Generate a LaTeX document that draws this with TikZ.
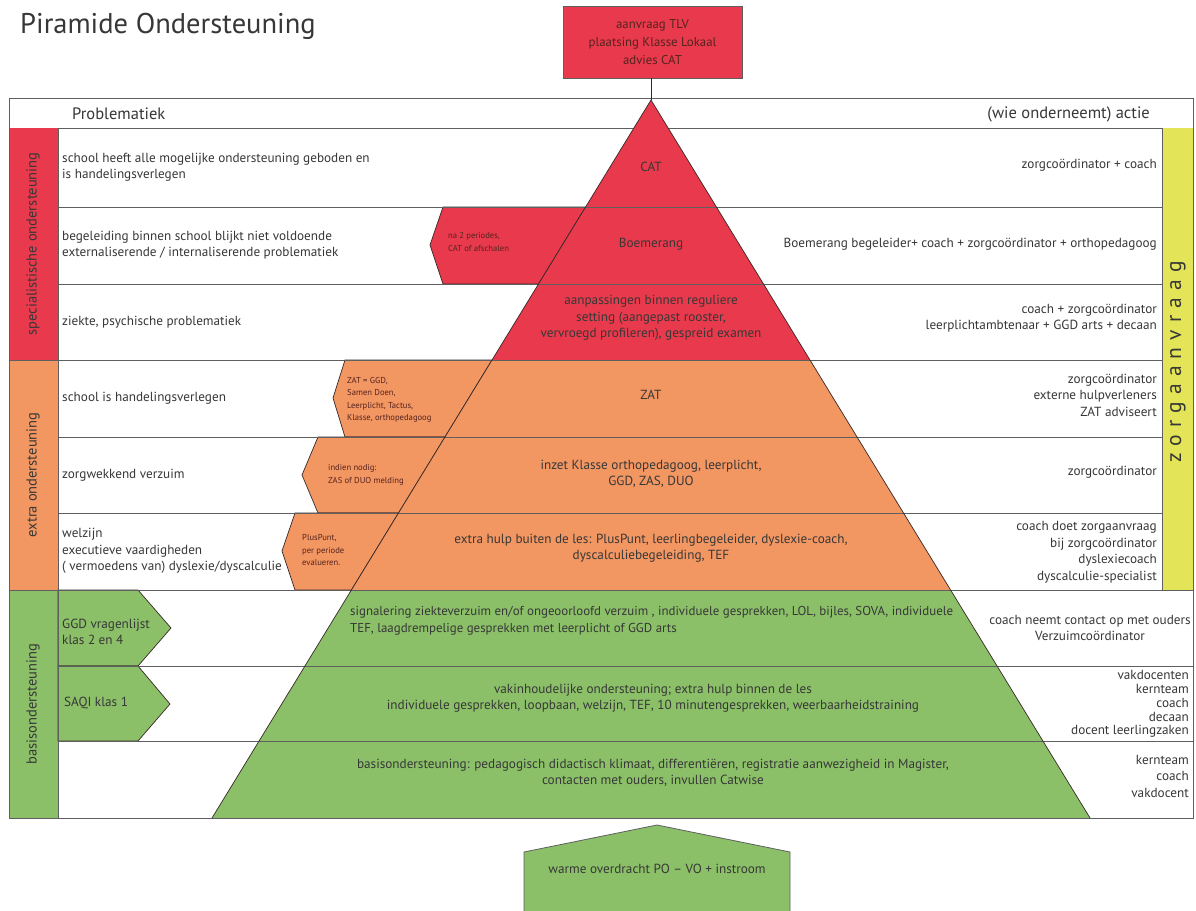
\documentclass[tikz,border=0pt]{standalone}
\usepackage{fontspec}
\setmainfont{PT Sans}
\definecolor{pred}{RGB}{232,58,76}
\definecolor{porange}{RGB}{242,150,98}
\definecolor{pgreen}{RGB}{139,192,104}
\definecolor{pyellow}{RGB}{228,228,88}
\definecolor{linegray}{RGB}{95,95,95}
\definecolor{edgedark}{RGB}{55,40,40}
\definecolor{txtgray}{RGB}{55,55,55}
\definecolor{lbldark}{RGB}{85,35,30}
\begin{document}
\begin{tikzpicture}[x=1pt,y=-1pt,
  body/.style={font=\fontsize{13.2}{16.5}\selectfont, text=txtgray, inner sep=0pt},
  lefttxt/.style={body, anchor=west, align=left},
  righttxt/.style={body, anchor=east, align=right},
  midtxt/.style={body, anchor=center, align=center},
  smalltxt/.style={font=\fontsize{8.6}{12.4}\selectfont, text=lbldark, inner sep=0pt, anchor=west, align=left},
  bandtxt/.style={font=\fontsize{14.5}{16}\selectfont, text=txtgray, inner sep=0pt, rotate=90},
  headtxt/.style={font=\fontsize{16.5}{18}\selectfont, text=txtgray, inner sep=0pt},
  rowline/.style={draw=linegray, line width=0.8pt},
  shapeline/.style={draw=edgedark, line width=0.7pt},
]
\useasboundingbox (0,0) rectangle (1196,910);
\fill[white] (0,0) rectangle (1196,910);

% title
\node[anchor=base west, font=\fontsize{28.5}{32}\selectfont, text=txtgray, inner sep=0pt] (title) at (20,33) {Piramide Ondersteuning};

% outer frame and header
\draw[rowline] (9,98) rectangle (1193,818);
\draw[rowline] (9,128) -- (1193,128);
\node[headtxt, anchor=west] (hprob) at (72,114) {Problematiek};
\node[headtxt, anchor=east] (hactie) at (1150,114) {(wie onderneemt) actie};

% left bands
\fill[pred] (9,128) rectangle (58,360);
\fill[porange] (9,360) rectangle (58,590);
\fill[pgreen] (9,590) rectangle (58,818);
\node[bandtxt] (bspec) at (33,244) {specialistische ondersteuning};
\node[bandtxt] (bextra) at (33,475) {extra ondersteuning};
\node[bandtxt] (bbasis) at (33,704) {basisondersteuning};

% right yellow band
\fill[pyellow] (1162,128) rectangle (1193,590);
\node[font=\fontsize{21.5}{24}\selectfont\addfontfeatures{LetterSpace=33}, text=txtgray, inner sep=0pt, rotate=90] (zorg) at (1178,362) {zorgaanvraag};

% arrow shapes (left-pointing, joined to pyramid)
\filldraw[fill=pred, shapeline] (430,245) -- (443,207) -- (585.6,207) -- (538.5,284) -- (443,284) -- cycle;
\filldraw[fill=porange, shapeline] (333,398) -- (345,360) -- (492,360) -- (445,437) -- (345,437) -- cycle;
\filldraw[fill=porange, shapeline] (302,475) -- (318,437) -- (445,437) -- (398.5,513) -- (318,513) -- cycle;
\filldraw[fill=porange, shapeline] (282,551) -- (295,513) -- (398.5,513) -- (351.4,590) -- (295,590) -- cycle;

% green arrows from the left column
\filldraw[fill=pgreen, shapeline] (58,590) -- (138,590) -- (171,628) -- (138,666) -- (58,666) -- cycle;
\filldraw[fill=pgreen, shapeline] (58,666) -- (138,666) -- (170,704) -- (138,741) -- (58,741) -- cycle;

% pyramid layers
\coordinate (apex) at (651,100);
\fill[pred] (apex) -- (810,360) -- (492,360) -- cycle;
\fill[porange] (492,360) -- (810,360) -- (950.6,590) -- (351.4,590) -- cycle;
\fill[pgreen] (351.4,590) -- (950.6,590) -- (1090,818) -- (212,818) -- cycle;

% row lines
\foreach \yy in {207,284,437,513} { \draw[rowline] (58,\yy) -- (1162,\yy); }
\draw[rowline] (9,360) -- (1162,360);
\draw[rowline] (9,590) -- (1193,590);
\draw[rowline] (58,666) -- (1193,666);
\draw[rowline] (58,741) -- (1193,741);
\draw[rowline] (58,128) -- (58,818);
\draw[rowline] (1162,128) -- (1162,590);
\draw[rowline] (9,98) rectangle (1193,818);

% pyramid outline
\draw[shapeline] (212,818) -- (apex) -- (1090,818);

% top box and connector
\node[draw=linegray, line width=0.8pt, fill=pred, minimum width=179pt, minimum height=72pt, inner sep=0pt, align=center, font=\fontsize{12.8}{18}\selectfont, text=lbldark] (tlv) at (652.5,42) {aanvraag TLV\\plaatsing Klasse Lokaal\\advies CAT};
\draw[edgedark, line width=0.7pt] (tlv.south -| apex) -- (apex);

% bottom box
\filldraw[fill=pgreen, draw=linegray, line width=0.8pt] (524,912) -- (524,852) -- (657,825) -- (790,852) -- (790,912);
\node[midtxt] (warm) at (657,869) {warme overdracht PO -- VO + instroom};

% left texts
\node[lefttxt] (p1) at (62,167) {school heeft alle mogelijke ondersteuning geboden en\\is handelingsverlegen};
\node[lefttxt] (p2) at (62,245) {begeleiding binnen school blijkt niet voldoende\\externaliserende / internaliserende problematiek};
\node[lefttxt] (p3) at (62,322) {ziekte, psychische problematiek};
\node[lefttxt] (p4) at (62,398) {school is handelingsverlegen};
\node[lefttxt] (p5) at (62,475) {zorgwekkend verzuim};
\node[lefttxt] (p6) at (62,551) {welzijn\\executieve vaardigheden\\( vermoedens van) dyslexie/dyscalculie};
\node[lefttxt] (p7) at (62,632) {GGD vragenlijst\\klas 2 en 4};
\node[lefttxt] (p8) at (64,703) {SAQI klas 1};

% small arrow labels
\node[smalltxt] (a1) at (448,242) {na 2 periodes,\\CAT of afschalen};
\node[smalltxt] (a2) at (347,400) {ZAT = GGD,\\Samen Doen,\\Leerplicht, Tactus,\\Klasse, orthopedagoog};
\node[smalltxt] (a3) at (328,475) {indien nodig:\\ZAS of DUO melding};
\node[smalltxt] (a4) at (302,550) {PlusPunt,\\per periode\\evalueren.};

% pyramid texts
\node[midtxt] (c1) at (651,167) {CAT};
\node[midtxt] (c2) at (651,244) {Boemerang};
\node[midtxt] (c3) at (651,318) {aanpassingen binnen reguliere\\setting (aangepast rooster,\\vervroegd profileren), gespreid examen};
\node[midtxt] (c4) at (651,395) {ZAT};
\node[midtxt] (c5) at (651,474) {inzet Klasse orthopedagoog, leerplicht,\\GGD, ZAS, DUO};
\node[midtxt] (c6) at (651,548) {extra hulp buiten de les: PlusPunt, leerlingbegeleider, dyslexie-coach,\\dyscalculiebegeleiding, TEF};
\node[lefttxt, font=\fontsize{12.9}{16.5}\selectfont] (c7) at (350,621) {signalering ziekteverzuim en/of ongeoorloofd verzuim , individuele gesprekken, LOL, bijles, SOVA, individuele\\TEF, laagdrempelige gesprekken met leerplicht of GGD arts};
\node[midtxt] (c8) at (653,698) {vakinhoudelijke ondersteuning; extra hulp binnen de les\\individuele gesprekken, loopbaan, welzijn, TEF, 10 minutengesprekken, weerbaarheidstraining};
\node[midtxt] (c9) at (653,773) {basisondersteuning: pedagogisch didactisch klimaat, differentiëren, registratie aanwezigheid in Magister,\\contacten met ouders, invullen Catwise};

% right texts
\node[righttxt] (r1) at (1157,165) {zorgcoördinator + coach};
\node[righttxt] (r2) at (1157,244) {Boemerang begeleider+ coach + zorgcoördinator + orthopedagoog};
\node[righttxt] (r3) at (1157,318) {coach + zorgcoördinator\\leerplichtambtenaar + GGD arts + decaan};
\node[righttxt] (r4) at (1157,395) {zorgcoördinator\\externe hulpverleners\\ZAT adviseert};
\node[righttxt] (r5) at (1157,472) {zorgcoördinator};
\node[righttxt] (r6) at (1157,552) {coach doet zorgaanvraag\\bij zorgcoördinator\\dyslexiecoach\\dyscalculie-specialist};
\node[body, anchor=center, align=center] (r7) at (1090,628) {coach neemt contact op met ouders\\Verzuimcoördinator};
\node[body, anchor=east, align=right, font=\fontsize{13.2}{13.8}\selectfont] (r8) at (1189,704) {vakdocenten\\kernteam\\coach\\decaan\\docent leerlingzaken};
\node[righttxt] (r9) at (1189,776) {kernteam\\coach\\vakdocent};
\end{tikzpicture}
\end{document}
